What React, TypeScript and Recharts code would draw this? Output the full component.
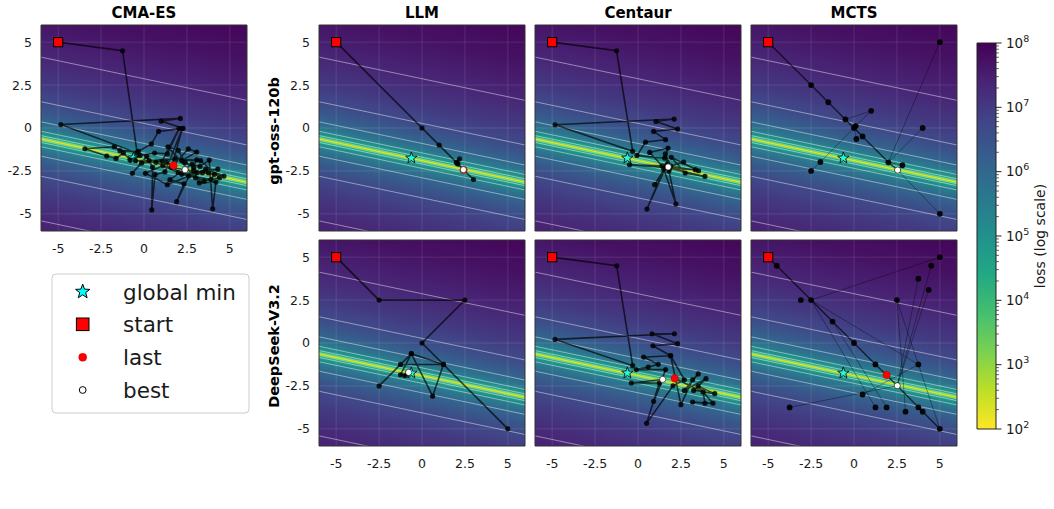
import React from 'react';
import {
  ComposedChart,
  Line,
  Scatter,
  XAxis,
  YAxis,
  ReferenceArea,
  ReferenceLine,
} from 'recharts';

type XY = [number, number];

const FONT = '"DejaVu Sans", sans-serif';

const AXIS_TICKS = [-5, -2.5, 0, 2.5, 5];
const AXIS_DOMAIN: [number, number] = [-6, 6];

// valley of the loss surface: y = VALLEY_Y0 + VALLEY_SLOPE * x
const VALLEY_SLOPE = -0.21;
const VALLEY_Y0 = -1.9;
// white contour lines, as vertical offsets from the valley
const CONTOUR_OFFSETS = [-4.77, -2.17, -1.0, -0.45, -0.2, -0.09, 0.09, 0.2, 0.45, 1.0, 2.17, 4.77];
// log10(loss) against |offset| from the valley
const LOSS_OFFSETS = [0, 0.03, 0.06, 0.1, 0.15, 0.2, 0.3, 0.45, 0.7, 1.0, 1.5, 2.17, 3.2, 4.77, 7, 10];
const LOSS_LOG10 = [2.2, 2.6, 3.3, 3.95, 4.35, 4.6, 4.95, 5.35, 5.7, 6.0, 6.35, 6.68, 7.0, 7.36, 7.7, 8.0];

const GLOBAL_MIN: XY = [-0.62, -1.75];
const START: XY = [-5, 5];

const CBAR_MAJOR = [1e2, 1e3, 1e4, 1e5, 1e6, 1e7, 1e8];
const CBAR_MINOR = [2, 3, 4, 5, 6, 7, 8, 9];

const COLUMN_TITLES = ['CMA-ES', 'LLM', 'Centaur', 'MCTS'];
const ROW_LABELS = ['gpt-oss-120b', 'DeepSeek-V3.2'];
const LEGEND_LABELS = ['global min', 'start', 'last', 'best'];

const VIRIDIS = [
  '#440154', '#482475', '#414487', '#355f8d', '#2a788e', '#21918c',
  '#22a884', '#44bf70', '#7ad151', '#bddf26', '#fde725',
];

// ---- trajectories ----
const CMA_ES_PATH: XY[] = [
  [-5, 5], [-1.25, 4.5], [-0.4, -1.45], [-4.85, 0.2], [2.12, 0.56], [1.0, 0.4], [2.28, -0.02],
  [0.85, -0.2], [0.43, -0.93], [-0.33, -1.36], [-1.4, -1.32], [-1.73, -1.09], [-3.44, -1.21],
  [-2.17, -1.63], [-1.63, -1.77], [-1.2, -1.46], [-0.82, -1.85], [-0.23, -1.6], [0.62, -1.46],
  [1.36, -1.51], [2.04, -0.04], [1.05, -1.94], [-0.14, -2.04], [-0.68, -2.64], [0.16, -1.65],
  [0.5, -2.29], [0.45, -4.77], [0.64, -2.72], [1.22, -2.56], [2.23, -0.04], [1.6, -2.3],
  [2.58, -1.22], [3.07, -1.4], [2.2, -1.9], [3.07, -1.85], [1.9, -4.29], [2.33, -3.26],
  [1.51, -3.01], [2.8, -2.1], [3.26, -2.24], [3.8, -1.87], [4.0, -4.71], [4.19, -3.15],
  [3.22, -3.2], [2.9, -2.5], [3.75, -2.62], [4.66, -2.8], [3.6, -2.4], [1.36, -3.3],
  [0.08, -2.64], [1.1, -2.2], [2.39, -2.43], [3.4, -2.6], [4.1, -2.7], [3.9, -3.0], [2.6, -2.8],
  [2.0, -2.6], [0.7, -2.0], [-0.5, -1.9], [0.3, -1.9], [1.8, -1.8], [3.3, -1.9], [4.4, -2.9],
  [3.5, -3.1], [3.0, -2.9], [1.4, -1.1], [2.0, -1.3], [2.4, -2.0], [2.9, -2.3], [3.1, -2.6],
  [4.3, -2.4], [2.2, -2.7], [1.3, -2.0], [1.72, -2.18],
];

const LLM_GPT_PATH: XY[] = [
  [-5, 5], [0, 0], [1, -1], [2, -2], [2.19, -1.79], [2.05, -2.05], [2.1, -2.1],
  [2.4, -2.42], [3, -3], [2.42, -2.44],
];

const LLM_DS_PATH: XY[] = [
  [-5, 5], [-2.5, 2.5], [2.5, 2.5], [0, 0], [5, -5], [1.25, -1.25], [0.62, -3.1],
  [-0.62, -0.62], [-2.5, -2.5], [-1.25, -1.25], [1.25, -1.25], [-0.62, -0.62],
  [-1.25, -1.85], [-1.0, -1.9], [-0.85, -1.8], [-0.78, -1.71],
];

const CENTAUR_GPT_PATH: XY[] = [
  [-5, 5], [-1.25, 4.5], [-0.31, -1.36], [-4.83, 0.19], [2.11, 0.52], [1.05, 0.38], [2.31, -0.06],
  [0.91, -0.2], [1.61, -0.68], [0.44, -0.82], [-0.06, -1.6], [1.55, -1.75], [1.75, -1.17],
  [0.68, -1.42], [1.4, -2.2], [-0.49, -2.14], [1.6, -2.3], [0.97, -3.3], [1.7, -2.1],
  [0.52, -4.72], [1.5, -2.4], [2.21, -4.43], [1.8, -2.5], [1.59, -1.51], [1.9, -2.2],
  [2.66, -1.98], [1.76, -2.27], [3.34, -2.43], [1.85, -2.35], [3.9, -2.82], [2.75, -2.62],
  [1.94, -1.71], [3.53, -2.49], [1.65, -2.2], [1.76, -2.27],
];

const CENTAUR_DS_PATH: XY[] = [
  [-5, 5], [-1.24, 4.5], [-0.31, -1.32], [-4.83, 0.21], [2.12, 0.54], [0.82, 0.54], [2.31, -0.04],
  [0.87, -0.16], [1.9, -0.74], [0.33, -0.82], [1.18, -1.24], [0.6, -1.4], [-0.1, -1.55],
  [1.61, -1.55], [0.91, -3.4], [1.44, -2.12], [-0.39, -2.33], [1.24, -2.33], [0.5, -4.68],
  [2.04, -2.49], [2.7, -2.14], [1.9, -0.74], [2.5, -3.59], [3.18, -2.14], [3.51, -1.8],
  [2.7, -2.76], [3.96, -2.08], [3.24, -2.76], [4.47, -2.95], [3.5, -2.52], [4.37, -3.51],
  [3.18, -3.44], [3.9, -3.51], [3.79, -2.85], [2.14, -2.06],
];

// MCTS: tree nodes and edges (index pairs)
const MCTS_GPT_NODES: XY[] = [
  [-5, 5], [-2.5, 2.5], [-1.5, 1.5], [-0.5, 0.5], [0, 0], [0.1, 0.12], [1, 1], [0.14, -0.64],
  [0.5, -0.49], [2, -2], [2.54, -2.45], [2.82, -2.17], [5, -5], [5, 5], [4, 0], [-1.96, -1.98],
  [-2.5, -2.5],
];
const MCTS_GPT_MAIN: XY[] = [[0, 1], [1, 2], [2, 3], [3, 4], [4, 9], [9, 10]];
const MCTS_GPT_SIDE: XY[] = [
  [10, 12], [3, 6], [5, 6], [5, 15], [15, 16], [4, 7], [4, 8], [9, 13], [9, 14], [10, 11], [9, 11],
];

const MCTS_DS_NODES: XY[] = [
  [-5, 5], [-4.5, 4.5], [-3.1, 2.5], [-2.5, 2.5], [-1.25, 1.25], [0, 0], [1.25, -1.25],
  [1.9, -1.86], [2.52, -2.49], [3.75, -3.75], [4, -4], [5, -5], [5, 5], [4.5, 4.5], [3.75, 3.75],
  [4.35, 3.1], [2.5, 2.5], [3.75, -1.25], [0.5, -3], [1.25, -3.75], [1.9, -3.75], [3.0, -4],
  [-3.75, -3.75],
];
const MCTS_DS_MAIN: XY[] = [[0, 1], [1, 3], [3, 4], [4, 5], [5, 6], [6, 7], [7, 8], [8, 9], [9, 10], [10, 11]];
const MCTS_DS_SIDE: XY[] = [
  [2, 3], [3, 12], [3, 17], [3, 19], [4, 20], [8, 13], [8, 14], [8, 15], [16, 21], [22, 8],
  [18, 17], [16, 11],
];

type PanelSpec = {
  id: string;
  left: number;
  top: number;
  showX: boolean;
  showY: boolean;
  path?: XY[];
  nodes?: XY[];
  mainEdges?: XY[];
  sideEdges?: XY[];
  last?: XY;
  best: XY;
};

const PLOT = 206;
const COL_LEFT = [41, 319, 535, 751];
const ROW_TOP = [25, 240];

const PANELS: PanelSpec[] = [
  { id: 'cma', left: COL_LEFT[0], top: ROW_TOP[0], showX: true, showY: true, path: CMA_ES_PATH, last: [1.72, -2.18], best: [2.39, -2.43] },
  { id: 'llm1', left: COL_LEFT[1], top: ROW_TOP[0], showX: false, showY: true, path: LLM_GPT_PATH, last: [2.42, -2.44], best: [2.41, -2.43] },
  { id: 'cen1', left: COL_LEFT[2], top: ROW_TOP[0], showX: false, showY: false, path: CENTAUR_GPT_PATH, best: [1.76, -2.27] },
  { id: 'mcts1', left: COL_LEFT[3], top: ROW_TOP[0], showX: false, showY: false, nodes: MCTS_GPT_NODES, mainEdges: MCTS_GPT_MAIN, sideEdges: MCTS_GPT_SIDE, best: [2.54, -2.45] },
  { id: 'llm2', left: COL_LEFT[1], top: ROW_TOP[1], showX: true, showY: true, path: LLM_DS_PATH, best: [-0.78, -1.71] },
  { id: 'cen2', left: COL_LEFT[2], top: ROW_TOP[1], showX: true, showY: false, path: CENTAUR_DS_PATH, last: [2.14, -2.06], best: [1.44, -2.12] },
  { id: 'mcts2', left: COL_LEFT[3], top: ROW_TOP[1], showX: true, showY: false, nodes: MCTS_DS_NODES, mainEdges: MCTS_DS_MAIN, sideEdges: MCTS_DS_SIDE, last: [1.9, -1.86], best: [2.52, -2.49] },
];

// ---- colour helpers ----
function hexToRgb(h: string) {
  return [1, 3, 5].map((i) => parseInt(h.slice(i, i + 2), 16));
}
function viridis(t: number) {
  const c = Math.min(1, Math.max(0, t)) * (VIRIDIS.length - 1);
  const i = Math.min(VIRIDIS.length - 2, Math.floor(c));
  const f = c - i;
  const a = hexToRgb(VIRIDIS[i]);
  const b = hexToRgb(VIRIDIS[i + 1]);
  const m = a.map((v, k) => Math.round(v + (b[k] - v) * f));
  return `rgb(${m[0]},${m[1]},${m[2]})`;
}
function lossLog10(v: number) {
  const a = Math.abs(v);
  for (let i = 1; i < LOSS_OFFSETS.length; i++) {
    if (a <= LOSS_OFFSETS[i]) {
      const f = (a - LOSS_OFFSETS[i - 1]) / (LOSS_OFFSETS[i] - LOSS_OFFSETS[i - 1]);
      return LOSS_LOG10[i - 1] + f * (LOSS_LOG10[i] - LOSS_LOG10[i - 1]);
    }
  }
  return LOSS_LOG10[LOSS_LOG10.length - 1];
}
const lossColor = (logLoss: number) => viridis((8 - logLoss) / 6);

// gradient across the valley, in the plot's bounding box
const NORM = Math.hypot(1, VALLEY_SLOPE);
const S_MIN = -0.8;
const S_MAX = 0.5;
const SPAN = AXIS_DOMAIN[1] - AXIS_DOMAIN[0];
const VALLEY_BOX_Y = (AXIS_DOMAIN[1] - VALLEY_Y0) / SPAN;
const NX = VALLEY_SLOPE / NORM;
const NY = 1 / NORM;
const offsetOf = (v: number) => (-v / (SPAN * NORM) - S_MIN) / (S_MAX - S_MIN);
const offsetToV = (o: number) => -(S_MIN + o * (S_MAX - S_MIN)) * SPAN * NORM;

function heatStops() {
  const vs: number[] = [];
  LOSS_OFFSETS.forEach((a) => vs.push(a, -a));
  [0.015, 0.045, 0.08, 0.12, 0.17, 0.25, 0.36].forEach((a) => vs.push(a, -a));
  for (let i = 0; i <= 80; i++) vs.push(offsetToV(i / 80));
  return vs
    .map((v) => ({ o: offsetOf(v), c: lossColor(lossLog10(v)) }))
    .filter((s) => s.o >= 0 && s.o <= 1)
    .sort((a, b) => a.o - b.o);
}

const pt = (p: XY) => ({ x: p[0], y: p[1] });
const valleyY = (x: number) => VALLEY_Y0 + VALLEY_SLOPE * x;

function starPath(cx: number, cy: number, R: number) {
  let d = '';
  for (let i = 0; i < 10; i++) {
    const r = i % 2 ? R * 0.42 : R;
    const a = -Math.PI / 2 + (i * Math.PI) / 5;
    d += `${i ? 'L' : 'M'}${cx + r * Math.cos(a)} ${cy + r * Math.sin(a)}`;
  }
  return d + 'Z';
}

function edgeData(nodes: XY[], edges: XY[]) {
  return edges.flatMap(([a, b]) => [pt(nodes[a]), pt(nodes[b]), { x: nodes[b][0], y: null as any }]);
}

const Y_W = 40;
const X_H = 30;

function Panel({ spec }: { spec: PanelSpec }) {
  const yw = spec.showY ? Y_W : 0;
  const xh = spec.showX ? X_H : 0;
  const tickStyle = { fontSize: 12.5, fill: '#1a1a1a', fontFamily: FONT };
  const dots = spec.path ? spec.path.map(pt) : (spec.nodes || []).map(pt);
  const isTree = !!spec.nodes;
  return (
    <div style={{ position: 'absolute', left: spec.left - yw - 1, top: spec.top - 1 }}>
      <ComposedChart
        width={PLOT + yw + 2}
        height={PLOT + xh + 2}
        margin={{ top: 1, right: 1, bottom: 1, left: 1 }}
      >
        <XAxis
          type="number"
          dataKey="x"
          domain={AXIS_DOMAIN}
          ticks={AXIS_TICKS}
          interval={0}
          allowDataOverflow
          hide={!spec.showX}
          height={xh}
          axisLine={false}
          tickLine={false}
          tickSize={4}
          tickMargin={9}
          tick={tickStyle}
        />
        <YAxis
          type="number"
          dataKey="y"
          domain={AXIS_DOMAIN}
          ticks={AXIS_TICKS}
          interval={0}
          allowDataOverflow
          hide={!spec.showY}
          width={yw}
          axisLine={false}
          tickLine={false}
          tickSize={4}
          tickMargin={5}
          tick={tickStyle}
        />
        <ReferenceArea x1={-6} x2={6} y1={-6} y2={6} fill="url(#heat)" fillOpacity={1} stroke="none" zIndex={1} />
        {AXIS_TICKS.map((t) => (
          <ReferenceLine key={`gx${t}`} x={t} stroke="#ffffff" strokeOpacity={0.14} strokeWidth={0.8} zIndex={2} />
        ))}
        {AXIS_TICKS.map((t) => (
          <ReferenceLine key={`gy${t}`} y={t} stroke="#ffffff" strokeOpacity={0.14} strokeWidth={0.8} zIndex={2} />
        ))}
        {CONTOUR_OFFSETS.map((off) => (
          <ReferenceLine
            key={`c${off}`}
            segment={[
              { x: AXIS_DOMAIN[0], y: valleyY(AXIS_DOMAIN[0]) + off },
              { x: AXIS_DOMAIN[1], y: valleyY(AXIS_DOMAIN[1]) + off },
            ]}
            ifOverflow="hidden"
            stroke="#ffffff"
            strokeOpacity={Math.abs(off) < 0.15 ? 0.4 : 0.6}
            strokeWidth={0.75}
            zIndex={3}
          />
        ))}
        <Scatter
          data={[pt(GLOBAL_MIN)]}
          isAnimationActive={false}
          zIndex={4}
          shape={(p: any) => (
            <path d={starPath(p.cx, p.cy, 6)} fill="#00ffff" fillOpacity={0.75} stroke="#000" strokeWidth={0.8} />
          )}
        />
        {isTree && (
          <Line
            data={edgeData(spec.nodes!, spec.sideEdges || [])}
            dataKey="y"
            type="linear"
            stroke="#000"
            strokeOpacity={0.45}
            strokeWidth={0.8}
            dot={false}
            activeDot={false}
            connectNulls={false}
            isAnimationActive={false}
            zIndex={5}
          />
        )}
        {isTree && (
          <Line
            data={edgeData(spec.nodes!, spec.mainEdges || [])}
            dataKey="y"
            type="linear"
            stroke="#000"
            strokeOpacity={0.7}
            strokeWidth={1.3}
            dot={false}
            activeDot={false}
            connectNulls={false}
            isAnimationActive={false}
            zIndex={6}
          />
        )}
        {!isTree && (
          <Line
            data={dots}
            dataKey="y"
            type="linear"
            stroke="#000"
            strokeOpacity={0.68}
            strokeWidth={1.6}
            dot={false}
            activeDot={false}
            isAnimationActive={false}
            zIndex={6}
          />
        )}
        <Scatter
          data={dots}
          isAnimationActive={false}
          zIndex={7}
          shape={(p: any) => (
            <circle cx={p.cx} cy={p.cy} r={isTree ? 2.9 : 2.6} fill="#000" fillOpacity={isTree ? 0.92 : 0.82} />
          )}
        />
        <Scatter
          data={[pt(START)]}
          isAnimationActive={false}
          zIndex={8}
          shape={(p: any) => (
            <rect x={p.cx - 4.6} y={p.cy - 4.6} width={9.2} height={9.2} fill="#ff0000" stroke="#000" strokeWidth={1} />
          )}
        />
        {spec.last && (
          <Scatter
            data={[pt(spec.last)]}
            isAnimationActive={false}
            zIndex={9}
            shape={(p: any) => <circle cx={p.cx} cy={p.cy} r={3.7} fill="#ff0000" stroke="#c00000" strokeWidth={0.5} />}
          />
        )}
        <Scatter
          data={[pt(spec.best)]}
          isAnimationActive={false}
          zIndex={10}
          shape={(p: any) => <circle cx={p.cx} cy={p.cy} r={3.1} fill="#ffffff" stroke="#000" strokeWidth={0.6} />}
        />
        <ReferenceArea x1={-6} x2={6} y1={-6} y2={6} fill="none" stroke="#333" strokeWidth={1} zIndex={11} />
      </ComposedChart>
    </div>
  );
}

const CB_LEFT = 977;
const CB_TOP = 43;
const CB_W = 19;
const CB_H = 386;
const CB_PAD = 14;

function CbarTick(props: any) {
  const { x, y, payload } = props;
  const e = Math.log10(payload.value);
  const major = Math.abs(e - Math.round(e)) < 1e-6;
  return (
    <g>
      <line x1={x} x2={x + (major ? 5.5 : 3)} y1={y} y2={y} stroke="#222" strokeWidth={major ? 1 : 0.7} />
      {major && (
        <text x={x + 10} y={y + 4.8} fontSize={13.5} fill="#1a1a1a" fontFamily={FONT}>
          10
          <tspan dy={-6} fontSize={9.5}>
            {Math.round(e)}
          </tspan>
        </text>
      )}
    </g>
  );
}

function Colorbar() {
  const ticks = [...CBAR_MAJOR];
  CBAR_MAJOR.slice(0, -1).forEach((m) => CBAR_MINOR.forEach((k) => ticks.push(m * k)));
  return (
    <div style={{ position: 'absolute', left: CB_LEFT - 1, top: CB_TOP - CB_PAD }}>
      <ComposedChart
        width={CB_W + 50 + 2}
        height={CB_H + 2 * CB_PAD}
        margin={{ top: CB_PAD, right: 1, bottom: CB_PAD, left: 1 }}
      >
        <XAxis type="number" dataKey="x" domain={[0, 1]} hide />
        <YAxis
          type="number"
          dataKey="y"
          scale="log"
          domain={[100, 1e8]}
          allowDataOverflow
          orientation="right"
          ticks={ticks}
          interval={0}
          width={50}
          axisLine={false}
          tickLine={false}
          tickSize={0}
          tickMargin={0}
          tick={(p: any) => <CbarTick {...p} />}
        />
        <ReferenceArea x1={0} x2={1} y1={100} y2={1e8} fill="url(#cbar)" fillOpacity={1} stroke="#222" strokeWidth={1} />
        <Scatter data={[{ x: 0, y: 100 }, { x: 1, y: 1e8 }]} isAnimationActive={false} shape={() => <g />} />
      </ComposedChart>
    </div>
  );
}

function Legend() {
  const x0 = 52;
  const y0 = 274;
  const rows = [291.7, 324.3, 357.3, 390];
  const mx = 82.7;
  return (
    <g>
      <rect x={x0} y={y0} width={197} height={139} rx={4} fill="#fff" fillOpacity={0.8} stroke="#cccccc" strokeWidth={1} />
      <path d={starPath(mx, rows[0], 7.5)} fill="#00ffff" stroke="#000" strokeWidth={1} />
      <rect x={mx - 6.3} y={rows[1] - 6.3} width={12.6} height={12.6} fill="#ff0000" stroke="#000" strokeWidth={1} />
      <circle cx={mx} cy={rows[2]} r={4} fill="#ff0000" stroke="#c00000" strokeWidth={0.5} />
      <circle cx={mx} cy={rows[3]} r={3.4} fill="#fff" stroke="#000" strokeWidth={1} />
      {LEGEND_LABELS.map((l, i) => (
        <text key={l} x={123} y={rows[i] + 7.8} fontSize={21.5} fill="#1a1a1a" fontFamily={FONT}>
          {l}
        </text>
      ))}
    </g>
  );
}

export default function App() {
  const stops = heatStops();
  return (
    <div style={{ position: 'absolute', left: 0, top: 0, width: 1054, height: 509, background: '#fff', fontFamily: FONT }}>
      <svg width={0} height={0} style={{ position: 'absolute' }}>
        <defs>
          <linearGradient
            id="heat"
            gradientUnits="objectBoundingBox"
            x1={0.5 + S_MIN * NX}
            y1={VALLEY_BOX_Y + S_MIN * NY}
            x2={0.5 + S_MAX * NX}
            y2={VALLEY_BOX_Y + S_MAX * NY}
          >
            {stops.map((s, i) => (
              <stop key={i} offset={s.o} stopColor={s.c} />
            ))}
          </linearGradient>
          <linearGradient id="cbar" x1={0} y1={0} x2={0} y2={1}>
            {VIRIDIS.map((c, i) => (
              <stop key={c} offset={i / (VIRIDIS.length - 1)} stopColor={c} />
            ))}
          </linearGradient>
        </defs>
      </svg>
      {PANELS.map((p) => (
        <Panel key={p.id} spec={p} />
      ))}
      <Colorbar />
      <svg width={1054} height={509} style={{ position: 'absolute', left: 0, top: 0, pointerEvents: 'none' }}>
        {COLUMN_TITLES.map((t, i) => (
          <text key={t} x={COL_LEFT[i] + PLOT / 2} y={17.5} textAnchor="middle" fontSize={15} fontWeight="bold" fill="#000" fontFamily={FONT}>
            {t}
          </text>
        ))}
        {ROW_LABELS.map((t, i) => (
          <text
            key={t}
            transform={`translate(278.5,${ROW_TOP[i] + PLOT / 2 + 3}) rotate(-90)`}
            textAnchor="middle"
            fontSize={14.5}
            fontWeight="bold"
            fill="#000"
            fontFamily={FONT}
          >
            {t}
          </text>
        ))}
        <text
          transform={`translate(1045,${CB_TOP + CB_H / 2}) rotate(-90)`}
          textAnchor="middle"
          fontSize={14}
          fill="#1a1a1a"
          fontFamily={FONT}
        >
          loss (log scale)
        </text>
        <Legend />
      </svg>
    </div>
  );
}
